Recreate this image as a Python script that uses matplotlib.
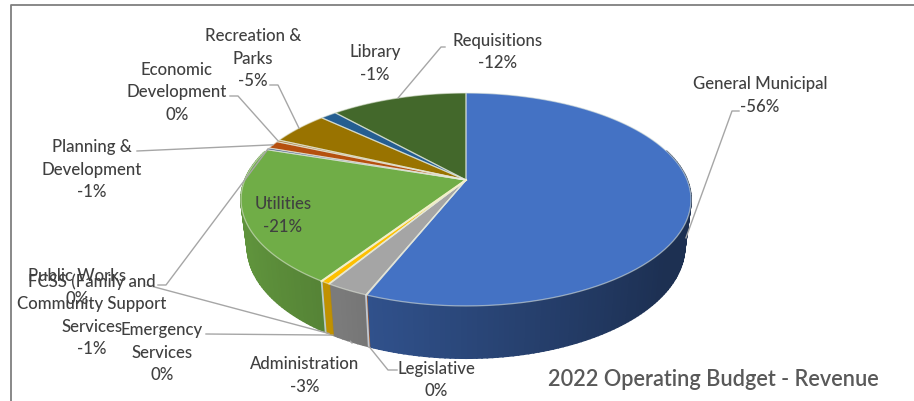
import numpy as np
from matplotlib import pyplot as plt
from matplotlib.colors import to_rgb

# slices in clockwise order from 12 o'clock, percent of revenue
categories = ['General Municipal', 'Legislative', 'Administration', 'Emergency\nServices',
              'FCSS (Family and\nCommunity Support\nServices', 'Utilities', 'Public Works',
              'Planning &\nDevelopment', 'Economic\nDevelopment', 'Recreation &\nParks',
              'Library', 'Requisitions']
values = [56.05, 0.05, 2.6, 0.05, 0.55, 20.7, 0.3, 1.2, 0.3, 5.05, 1.4, 11.7]
colors = ['#4472C4', '#ED7D31', '#A5A5A5', '#E0B030', '#FFC000', '#70AD47', '#264478',
          '#B5500F', '#9E6A20', '#997300', '#255E91', '#43682B']

# label centre, top of first line
label_pos = [(760, 76), (436, 361), (305, 356), (162, 322), (92, 273), (283, 196),
             (77, 268), (92, 139), (177, 62), (253, 28), (375, 44), (498, 33)]
# where each leader leaves its label; None = label sits on the slice
leader_pts = [[(739, 111), (732, 111)], [(397, 370), (388, 370)], [(352, 343)],
              [(206, 334)], [(147, 285)], None, [(158, 285), (166, 285)],
              [(137, 151)], [(230, 96), (238, 96)], [(270, 85), (278, 85)],
              None, [(445, 47), (441, 47)]]
# 'top' = leader ends on the upper rim, 'bottom' = lower rim, 'side' = part way down
leader_end = ['side', 'bottom', 'bottom', 'bottom', 'bottom', None, 'top',
              'top', 'top', 'top', None, 'top']

TEXT = '#404040'
LINE = '#A6A6A6'
FONT = 'Lato'
PERSP = 0.183


def project(theta, plane='top'):
    # perspective view of the pie disc, theta clockwise from 12 o'clock
    u = np.sin(theta)
    v = np.cos(theta)
    w = 1 + PERSP * v
    if plane == 'top':
        return 466 + 221.2 * u / w, 180 - 102.9 * v / w
    return 466 + 215 * u / w, 226 - 108 * v / w


def arc(t0, t1):
    n = max(2, int(abs(t1 - t0) / 0.02))
    return np.linspace(t0, t1, n)


fig = plt.figure(figsize=(9.14, 4.01), dpi=100)
ax = fig.add_axes([0, 0, 1, 1])
ax.set_xlim(0, 914)
ax.set_ylim(401, 0)
ax.axis('off')

# frame: only the top and left edges are on the canvas
ax.plot([11, 11, 914], [401, 5, 5], color='#7F7F7F', lw=1.3, solid_capstyle='butt')

fracs = np.array(values) / sum(values)
edges = np.concatenate([[0], np.cumsum(fracs)]) * 2 * np.pi

# side wall first, the top face covers the back part of it
for i, col in enumerate(colors):
    ts = arc(edges[i], edges[i + 1])
    base = np.array(to_rgb(col))
    for a, b in zip(ts[:-1], ts[1:]):
        if np.cos((a + b) / 2) > 0.3:
            continue
        shade = np.clip(0.62 - 0.25 * np.sin((a + b) / 2), 0.42, 0.85)
        xa, ya = project(np.array([a, b]))
        xb, yb = project(np.array([b, a]), 'bottom')
        c = base * shade
        # solid edge closes the hairline gaps between neighbouring quads
        ax.fill(np.r_[xa, xb], np.r_[ya, yb], facecolor=c, edgecolor=c, lw=1.2, zorder=2)

# pale seams down the wall at the front slice boundaries
for t in [edges[2], edges[5]]:
    xa, ya = project(t)
    xb, yb = project(t, 'bottom')
    ax.plot([xa, xb], [ya, yb], color='#D5DEEA', lw=1.3, alpha=0.8, zorder=3)

# top face
for i, col in enumerate(colors):
    ts = arc(edges[i], edges[i + 1])
    x, y = project(ts)
    ax.fill(np.r_[466, x], np.r_[180, y], facecolor=col, edgecolor='none', zorder=4)
    ax.plot(np.r_[466, x, 466], np.r_[180, y, 180], color='#E8EDE0', lw=0.9, alpha=0.55,
            zorder=5, solid_joinstyle='round')

# cream seam on the near edge of the utilities slice
x, y = project(np.array([edges[5], edges[5]]))
ax.plot([466, x[0]], [180, y[0]], color='#F2F0C8', lw=1.5, zorder=6)

# leader lines, ending on the slice they belong to
for i, pts in enumerate(leader_pts):
    if pts is None:
        continue
    mid = (edges[i] + edges[i + 1]) / 2
    xt, yt = project(mid)
    xb, yb = project(mid, 'bottom')
    if leader_end[i] == 'top':
        end = (xt, yt)
    elif leader_end[i] == 'bottom':
        end = (xb, yb)
    else:
        end = (xt + (xb - xt) * 0.8, yt + (yb - yt) * 0.8)
    xs = [p[0] for p in pts] + [end[0]]
    ys = [p[1] for p in pts] + [end[1]]
    ax.plot(xs, ys, color=LINE, lw=1.0, zorder=3 if leader_end[i] == 'side' else 7)

# labels, one extra line for the rounded percentage
for i, name in enumerate(categories):
    pct = round(values[i])
    txt = name + '\n' + ('-%d%%' % pct if pct else '0%')
    x, y = label_pos[i]
    ax.text(x, y, txt, ha='center', va='top', fontsize=12.1, family=FONT, color=TEXT,
            fontweight='medium', linespacing=1.5, zorder=8)

ax.text(713, 379, '2022 Operating Budget - Revenue', ha='center', va='center', fontsize=15.7,
        family=FONT, color='#595959', fontweight='semibold', zorder=8)

fig.savefig('out.png', dpi=100)
